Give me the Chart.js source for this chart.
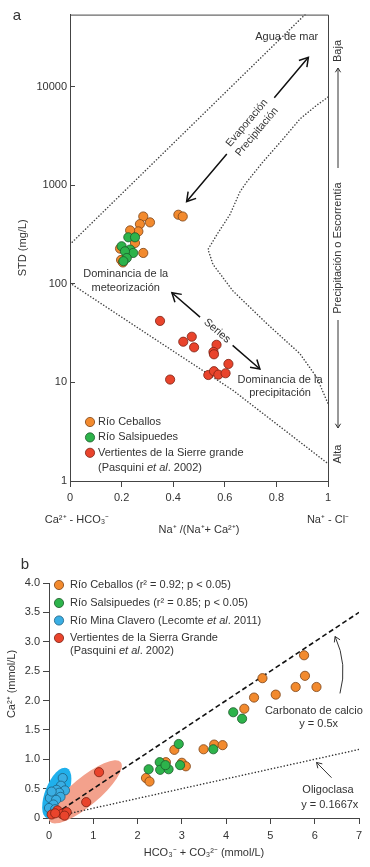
<!DOCTYPE html>
<html lang="es">
<head>
<meta charset="utf-8">
<title>Diagrama de Gibbs y Ca vs HCO3</title>
<script src="https://cdn.jsdelivr.net/npm/chart.js@4.4.1/dist/chart.umd.min.js"></script>
<style>
  html, body { margin: 0; padding: 0; background: #fff; }
  .panel { position: absolute; left: 0; width: 370px; }
  #panelA { top: 0; height: 545px; }
  #panelB { top: 545px; height: 322px; }
</style>
</head>
<body>
<div class="panel" id="panelA"><canvas id="chartA"></canvas></div>
<div class="panel" id="panelB"><canvas id="chartB"></canvas></div>
<script>
// ---- panel a: diagrama de Gibbs ----
const gibbsTicksX = [0, 0.2, 0.4, 0.6, 0.8, 1];
const gibbsTicksY = [1, 10, 100, 1000, 10000];

const ceballosRatio = [0.284, 0.310, 0.271, 0.265, 0.233, 0.420, 0.437, 0.284, 0.194, 0.252, 0.198, 0.205];
const ceballosStd = [483, 421, 404, 341, 349, 503, 483, 206, 228, 260, 175, 165];
const salsipuedesRatio = [0.226, 0.252, 0.200, 0.233, 0.245, 0.213, 0.220, 0.207];
const salsipuedesStd = [297, 297, 241, 223, 206, 214, 183, 170];
const vertientesRatio = [0.349, 0.472, 0.439, 0.481, 0.568, 0.556, 0.558, 0.614, 0.536, 0.558, 0.575, 0.603, 0.388];
const vertientesStd = [42.1, 29.1, 25.9, 22.7, 24.1, 20.4, 19.3, 15.4, 11.9, 13.0, 12.0, 12.4, 10.7];

// limites punteados del diagrama
const upperLimitRatio = [0, 0.911];
const upperLimitStd = [252, 54000];
const lowerLimitRatio = [0, 0.31, 0.632, 1];
const lowerLimitStd = [102, 29.7, 8.3, 1.5];
const rightLimitRatio = [1, 0.957, 0.891, 0.826, 0.748, 0.686, 0.659, 0.62, 0.57, 0.535, 0.554, 0.632, 0.764, 0.891, 0.957, 1];
const rightLimitStd = [7850, 6520, 4710, 2960, 1730, 1090, 863, 506, 318, 224, 158, 84.6, 39.3, 19.6, 11.2, 6.1];

// ---- panel b: Ca vs HCO3 + CO3 ----
const hco3Ticks = [0, 1, 2, 3, 4, 5, 6, 7];
const caTicks = [0, 0.5, 1, 1.5, 2, 2.5, 3, 3.5, 4];

const ceballosHco3 = [4.82, 5.76, 5.78, 5.57, 6.04, 5.12, 4.63, 4.41, 3.73, 3.92, 3.49, 2.83, 3.00, 3.09, 2.64, 2.19, 2.27];
const ceballosCa = [2.38, 2.77, 2.42, 2.23, 2.23, 2.10, 2.05, 1.86, 1.25, 1.24, 1.17, 1.16, 0.94, 0.88, 0.95, 0.68, 0.62];
const salsipuedesHco3 = [4.16, 4.36, 2.93, 3.71, 2.96, 2.50, 2.51, 2.70, 2.63, 2.25];
const salsipuedesCa = [1.80, 1.69, 1.26, 1.17, 0.90, 0.95, 0.82, 0.83, 0.90, 0.83];
const claveroHco3 = [0.31, 0.27, 0.36, 0.17, 0.23, 0.26, 0.02, 0.16, 0.10, 0.00, 0.14, 0.06];
const claveroCa = [0.68, 0.55, 0.47, 0.48, 0.43, 0.36, 0.34, 0.31, 0.23, 0.17, 0.15, 0.45];
const vertientesHco3 = [1.13, 0.84, 0.06, 0.19, 0.29, 0.40, 0.14, 0.35];
const vertientesCa = [0.78, 0.27, 0.06, 0.13, 0.07, 0.10, 0.08, 0.04];

const refSlopes = [0.5, 0.1667]; // carbonato de calcio, oligoclasa

const family = '"Liberation Sans", Arial, Helvetica, sans-serif';
const ink = '#333';
const colors = {
  ceballos: ['#f28a2e', '#7b4216'],
  salsipuedes: ['#2db34b', '#1d5b2b'],
  clavero: ['#3aaee3', '#1c5f80'],
  vertientes: ['#e9442c', '#7b2113'],
};

Chart.defaults.font.family = family;
Chart.defaults.color = ink;

const pts = (xs, ys) => xs.map((v, i) => ({ x: v, y: ys[i] }));
const font = (size, italic) => (italic ? 'italic ' : '') + size + 'px ' + family;

function label(ctx, text, x, y, opts = {}) {
  ctx.save();
  ctx.translate(x, y);
  if (opts.rot) ctx.rotate(opts.rot);
  ctx.font = font(opts.size || 11);
  ctx.fillStyle = ink;
  ctx.textAlign = opts.align || 'center';
  ctx.textBaseline = 'middle';
  ctx.fillText(text, 0, 0);
  ctx.restore();
}

function richLine(ctx, parts, x, y, size) {
  let cx = x;
  ctx.textAlign = 'left';
  ctx.textBaseline = 'middle';
  ctx.fillStyle = ink;
  parts.forEach(([t, it]) => {
    ctx.font = font(size, it);
    ctx.fillText(t, cx, y);
    cx += ctx.measureText(t).width;
  });
}

function arrowHead(ctx, x, y, ang, len) {
  ctx.beginPath();
  ctx.moveTo(x - len * Math.cos(ang - 0.55), y - len * Math.sin(ang - 0.55));
  ctx.lineTo(x, y);
  ctx.lineTo(x - len * Math.cos(ang + 0.55), y - len * Math.sin(ang + 0.55));
  ctx.stroke();
}

// flecha doble con hueco para el texto
function gapArrow(ctx, a, b, g0, g1, head) {
  const dx = b[0] - a[0], dy = b[1] - a[1];
  const ang = Math.atan2(dy, dx);
  ctx.beginPath();
  ctx.moveTo(a[0], a[1]);
  ctx.lineTo(a[0] + dx * g0, a[1] + dy * g0);
  ctx.moveTo(a[0] + dx * g1, a[1] + dy * g1);
  ctx.lineTo(b[0], b[1]);
  ctx.stroke();
  arrowHead(ctx, b[0], b[1], ang, head);
  arrowHead(ctx, a[0], a[1], ang + Math.PI, head);
  return ang;
}

function legendDot(ctx, x, y, c) {
  ctx.beginPath();
  ctx.arc(x, y, 4.6, 0, Math.PI * 2);
  ctx.fillStyle = c[0];
  ctx.fill();
  ctx.lineWidth = 0.8;
  ctx.strokeStyle = c[1];
  ctx.stroke();
}

const dot = (c, order) => ({
  backgroundColor: c[0], borderColor: c[1], borderWidth: 0.8,
  pointRadius: 4.6, pointHoverRadius: 4.6, order: order, clip: false,
});
const dotted = {
  showLine: true, pointRadius: 0, borderColor: '#444', borderWidth: 1.5,
  borderDash: [0.1, 3], borderCapStyle: 'round', fill: false, order: 10,
};

const tickFont = { size: 11, family: family };

// anotaciones del panel a
const gibbsNotes = {
  id: 'gibbsNotes',
  afterDraw(chart) {
    const { ctx, chartArea: ca, scales: { x, y } } = chart;
    const at = (vx, vy) => [x.getPixelForValue(vx), y.getPixelForValue(vy)];
    ctx.save();

    ctx.strokeStyle = '#444';
    ctx.lineWidth = 1;
    ctx.beginPath();
    ctx.moveTo(ca.left, ca.top + 0.5);
    ctx.lineTo(ca.right + 0.5, ca.top + 0.5);
    ctx.lineTo(ca.right + 0.5, ca.bottom);
    ctx.stroke();

    ctx.strokeStyle = '#111';
    ctx.lineWidth = 1.5;
    const evA = at(0.452, 685), evB = at(0.924, 19900);
    const evAng = gapArrow(ctx, evA, evB, 0.33, 0.72, 10);
    const seA = at(0.395, 81.3), seB = at(0.736, 13.7);
    const seAng = gapArrow(ctx, seA, seB, 0.32, 0.69, 10);

    const ev = at(0.705, 3910);
    label(ctx, 'Evaporación', ev[0] - 5, ev[1] - 4, { rot: evAng, size: 10.5 });
    label(ctx, 'Precipitación', ev[0] + 5, ev[1] + 5, { rot: evAng, size: 10.5 });
    const se = at(0.57, 33.4);
    label(ctx, 'Series', se[0], se[1], { rot: seAng });

    let p = at(0.84, 31700);
    label(ctx, 'Agua de mar', p[0], p[1]);
    p = at(0.216, 107);
    label(ctx, 'Dominancia de la', p[0], p[1] - 7);
    label(ctx, 'meteorización', p[0], p[1] + 7);
    p = at(0.814, 9.16);
    label(ctx, 'Dominancia de la', p[0], p[1] - 6.5);
    label(ctx, 'precipitación', p[0], p[1] + 6.5);

    // eje de precipitacion / escorrentia
    const rx = ca.right + 10;
    ctx.strokeStyle = '#333';
    ctx.lineWidth = 1;
    ctx.beginPath();
    ctx.moveTo(rx, 68); ctx.lineTo(rx, 168);
    ctx.moveTo(rx, 320); ctx.lineTo(rx, 428);
    ctx.stroke();
    arrowHead(ctx, rx, 68, -Math.PI / 2, 5);
    arrowHead(ctx, rx, 428, Math.PI / 2, 5);
    label(ctx, 'Baja', rx, 51, { rot: -Math.PI / 2 });
    label(ctx, 'Precipitación o Escorrentía', rx, 248, { rot: -Math.PI / 2 });
    label(ctx, 'Alta', rx, 454, { rot: -Math.PI / 2 });

    label(ctx, 'Ca²⁺ - HCO₃⁻', ca.left + 7, ca.bottom + 39);
    label(ctx, 'Na⁺ - Cl⁻', ca.right, ca.bottom + 39);
    label(ctx, 'a', 17, 16, { size: 15 });

    // leyenda
    const rows = [
      [colors.ceballos, [['Río Ceballos', false]]],
      [colors.salsipuedes, [['Río Salsipuedes', false]]],
      [colors.vertientes, [['Vertientes de la Sierre grande', false]]],
      [null, [['(Pasquini ', false], ['et al', true], ['. 2002)', false]]],
    ];
    rows.forEach(([c, parts], i) => {
      const ly = 422 + i * 15.4;
      if (c) legendDot(ctx, ca.left + 20, ly, c);
      richLine(ctx, parts, ca.left + 28, ly, 11);
    });
    ctx.restore();
  },
};

new Chart(document.getElementById('chartA'), {
  type: 'scatter',
  data: {
    datasets: [
      { label: 'Río Salsipuedes', data: pts(salsipuedesRatio, salsipuedesStd), ...dot(colors.salsipuedes, 1) },
      { label: 'Río Ceballos', data: pts(ceballosRatio, ceballosStd), ...dot(colors.ceballos, 2) },
      { label: 'Vertientes de la Sierre grande', data: pts(vertientesRatio, vertientesStd), ...dot(colors.vertientes, 1) },
      { label: 'límite superior', data: pts(upperLimitRatio, upperLimitStd), ...dotted },
      { label: 'límite inferior', data: pts(lowerLimitRatio, lowerLimitStd), ...dotted },
      { label: 'límite derecho', data: pts(rightLimitRatio, rightLimitStd), ...dotted },
    ],
  },
  options: {
    responsive: true,
    maintainAspectRatio: false,
    animation: false,
    layout: { padding: { left: 0, right: 42, top: 12, bottom: 0 } },
    scales: {
      x: {
        type: 'linear', min: 0, max: 1,
        afterBuildTicks: s => { s.ticks = gibbsTicksX.map(v => ({ value: v })); },
        afterFit: s => { s.height = 64; },
        border: { display: true, color: '#444', width: 1 },
        grid: { drawOnChartArea: false, tickLength: 6, color: '#444' },
        ticks: { padding: 4, color: ink, font: tickFont, callback: v => String(v) },
        title: { display: true, text: 'Na⁺ /(Na⁺+ Ca²⁺)', color: ink, font: tickFont, padding: { top: 0, bottom: 8 } },
      },
      y: {
        type: 'logarithmic', min: 1, max: 54000,
        afterBuildTicks: s => { s.ticks = gibbsTicksY.map(v => ({ value: v })); },
        afterFit: s => { s.width = 70; },
        border: { display: true, color: '#444', width: 1 },
        grid: { drawOnChartArea: false, tickLength: -5, color: '#444' },
        ticks: { padding: 8, color: ink, font: tickFont, callback: v => String(v) },
        title: { display: true, text: 'STD (mg/L)', color: ink, font: tickFont, padding: { top: 16, bottom: 0 } },
      },
    },
    plugins: { legend: { display: false }, tooltip: { enabled: false } },
  },
  plugins: [gibbsNotes],
});

// anotaciones del panel b
const ellipses = [
  { from: [-0.05, 0.0], to: [0.40, 0.85], minor: 11.5, fill: '#1fb0ec' },
  { from: [0.02, -0.06], to: [1.62, 0.95], minor: 14, fill: '#f3a18c' },
];

const caNotes = {
  id: 'caNotes',
  beforeDatasetsDraw(chart) {
    const { ctx, scales: { x, y } } = chart;
    ctx.save();
    ellipses.forEach(e => {
      const a = [x.getPixelForValue(e.from[0]), y.getPixelForValue(e.from[1])];
      const b = [x.getPixelForValue(e.to[0]), y.getPixelForValue(e.to[1])];
      ctx.beginPath();
      ctx.ellipse((a[0] + b[0]) / 2, (a[1] + b[1]) / 2, Math.hypot(b[0] - a[0], b[1] - a[1]) / 2,
        e.minor, Math.atan2(b[1] - a[1], b[0] - a[0]), 0, Math.PI * 2);
      ctx.fillStyle = e.fill;
      ctx.fill();
    });
    ctx.restore();
  },
  afterDraw(chart) {
    const { ctx, chartArea: ca, scales: { x, y } } = chart;
    const at = (vx, vy) => [x.getPixelForValue(vx), y.getPixelForValue(vy)];
    ctx.save();

    let p = at(5.98, 1.815);
    label(ctx, 'Carbonato de calcio', p[0], p[1]);
    p = at(6.09, 1.60);
    label(ctx, 'y = 0.5x', p[0], p[1]);
    p = at(6.30, 0.48);
    label(ctx, 'Oligoclasa', p[0], p[1]);
    p = at(6.34, 0.215);
    label(ctx, 'y = 0.1667x', p[0], p[1]);

    ctx.strokeStyle = '#333';
    ctx.lineWidth = 1;
    const s = at(6.57, 2.12), c = at(6.75, 2.61), t = at(6.46, 3.09);
    ctx.beginPath();
    ctx.moveTo(s[0], s[1]);
    ctx.quadraticCurveTo(c[0], c[1], t[0], t[1]);
    ctx.stroke();
    arrowHead(ctx, t[0], t[1], Math.atan2(t[1] - c[1], t[0] - c[0]), 6);
    const o1 = at(6.38, 0.686), o2 = at(6.04, 0.946);
    ctx.beginPath();
    ctx.moveTo(o1[0], o1[1]);
    ctx.lineTo(o2[0], o2[1]);
    ctx.stroke();
    arrowHead(ctx, o2[0], o2[1], Math.atan2(o2[1] - o1[1], o2[0] - o1[0]), 6);

    label(ctx, 'b', 25, 20, { size: 15 });
    label(ctx, 'Ca²⁺ (mmol/L)', 12, 139, { rot: -Math.PI / 2 });

    const rows = [
      [colors.ceballos, [['Río Ceballos (r² = 0.92; p < 0.05)', false]], 40],
      [colors.salsipuedes, [['Río Salsipuedes (r² = 0.85; p < 0.05)', false]], 58],
      [colors.clavero, [['Río Mina Clavero (Lecomte ', false], ['et al', true], ['. 2011)', false]], 75.5],
      [colors.vertientes, [['Vertientes de la Sierra Grande', false]], 93],
      [null, [['(Pasquini ', false], ['et al', true], ['. 2002)', false]], 106],
    ];
    rows.forEach(([col, parts, ly]) => {
      if (col) legendDot(ctx, ca.left + 10, ly, col);
      richLine(ctx, parts, ca.left + 21, ly, 11);
    });
    ctx.restore();
  },
};

const xEnd = hco3Ticks[hco3Ticks.length - 1];
const refLine = k => [{ x: 0, y: 0 }, { x: xEnd, y: k * xEnd }];

new Chart(document.getElementById('chartB'), {
  type: 'scatter',
  data: {
    datasets: [
      { label: 'Vertientes de la Sierra Grande', data: pts(vertientesHco3, vertientesCa), ...dot(colors.vertientes, 0) },
      { label: 'Río Salsipuedes', data: pts(salsipuedesHco3, salsipuedesCa), ...dot(colors.salsipuedes, 1) },
      { label: 'Río Ceballos', data: pts(ceballosHco3, ceballosCa), ...dot(colors.ceballos, 2) },
      { label: 'Río Mina Clavero', data: pts(claveroHco3, claveroCa), ...dot(colors.clavero, 3) },
      { label: 'Carbonato de calcio', data: refLine(refSlopes[0]), showLine: true, pointRadius: 0,
        borderColor: '#111', borderWidth: 1.6, borderDash: [5, 3], order: 8 },
      { label: 'Oligoclasa', data: refLine(refSlopes[1]), showLine: true, pointRadius: 0,
        borderColor: '#333', borderWidth: 1.5, borderDash: [0.1, 3.2], borderCapStyle: 'round', order: 9 },
    ],
  },
  options: {
    responsive: true,
    maintainAspectRatio: false,
    animation: false,
    layout: { padding: { left: 0, right: 11, top: 38, bottom: 0 } },
    scales: {
      x: {
        type: 'linear', min: 0, max: 7,
        afterBuildTicks: s => { s.ticks = hco3Ticks.map(v => ({ value: v })); },
        afterFit: s => { s.height = 49; },
        border: { display: true, color: '#444', width: 1 },
        grid: { drawOnChartArea: false, tickLength: 6, color: '#444' },
        ticks: { padding: 5, color: ink, font: tickFont },
        title: { display: true, text: 'HCO₃⁻ + CO₃²⁻ (mmol/L)', color: ink, font: tickFont, padding: { top: 0, bottom: 7.4 } },
      },
      y: {
        type: 'linear', min: 0, max: 4,
        afterBuildTicks: s => { s.ticks = caTicks.map(v => ({ value: v })); },
        afterFit: s => { s.width = 49; },
        border: { display: true, color: '#444', width: 1 },
        grid: { drawOnChartArea: false, tickLength: 6, color: '#444' },
        ticks: { padding: 3, color: ink, font: tickFont, callback: v => (v === 0 ? '0' : v.toFixed(1)) },
      },
    },
    plugins: { legend: { display: false }, tooltip: { enabled: false } },
  },
  plugins: [caNotes],
});
</script>
</body>
</html>
